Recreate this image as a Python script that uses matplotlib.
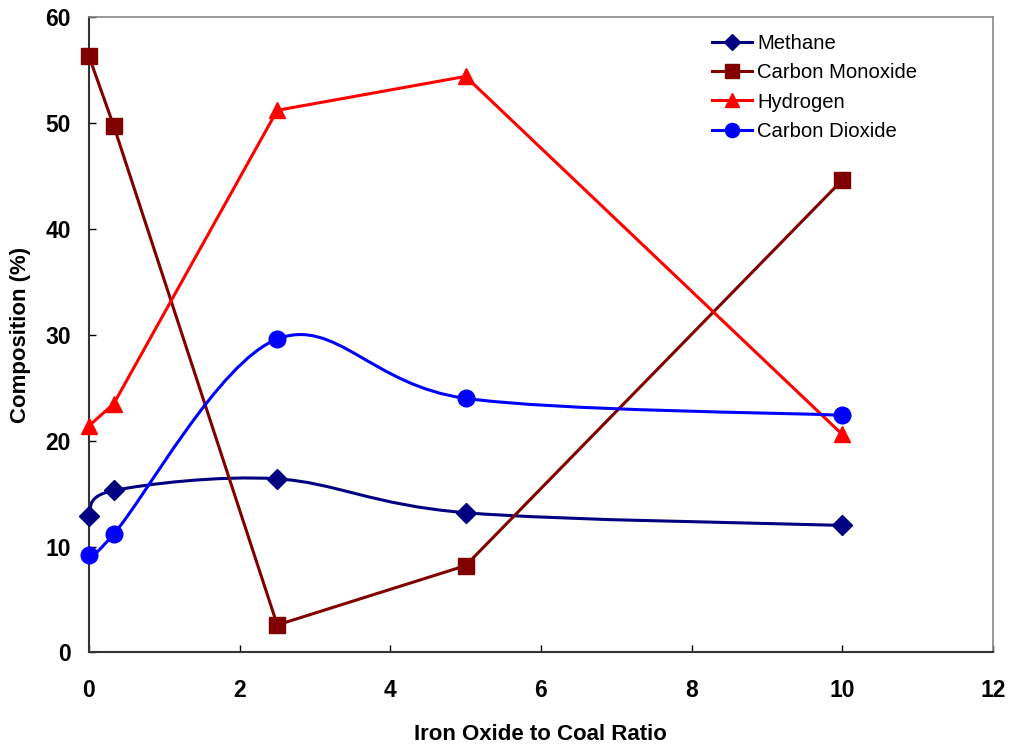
import matplotlib
matplotlib.use('Agg')
from matplotlib import pyplot as plt
from matplotlib.path import Path
from matplotlib.patches import PathPatch
from matplotlib.lines import Line2D

ratio = [0, 0.33, 2.5, 5, 10]
methane = [12.9, 15.3, 16.4, 13.2, 12.0]
carbon_monoxide = [56.3, 49.7, 2.6, 8.2, 44.6]
hydrogen = [21.4, 23.5, 51.2, 54.4, 20.6]
carbon_dioxide = [9.2, 11.2, 29.6, 24.0, 22.4]

plt.rcParams['font.family'] = ['Liberation Sans', 'DejaVu Sans']


def smooth_path(x, y):
    # Excel-style smoothed line: cubic bezier through the points
    pts = list(zip(x, y))
    n = len(pts)
    verts = [pts[0]]
    codes = [Path.MOVETO]
    for i in range(n - 1):
        p0 = pts[i - 1] if i > 0 else pts[i]
        p1 = pts[i]
        p2 = pts[i + 1]
        p3 = pts[i + 2] if i + 2 < n else pts[i + 1]
        c1 = (p1[0] + (p2[0] - p0[0]) / 6, p1[1] + (p2[1] - p0[1]) / 6)
        c2 = (p2[0] - (p3[0] - p1[0]) / 6, p2[1] - (p3[1] - p1[1]) / 6)
        verts += [c1, c2, p2]
        codes += [Path.CURVE4] * 3
    return Path(verts, codes)


fig = plt.figure(figsize=(10.11, 7.44), dpi=100)
ax = fig.add_axes([0.088, 0.123, 0.894, 0.854])

series = [
    ('Methane', methane, '#000080', 'D', 10, True),
    ('Carbon Monoxide', carbon_monoxide, '#800000', 's', 11.5, False),
    ('Hydrogen', hydrogen, '#FF0000', '^', 11.5, False),
    ('Carbon Dioxide', carbon_dioxide, '#0000FF', 'o', 12, True),
]

handles = []
for name, vals, col, mk, ms, smooth in series:
    if smooth:
        ax.add_patch(PathPatch(smooth_path(ratio, vals), fill=False, edgecolor=col, lw=2.2, zorder=2))
    else:
        ax.plot(ratio, vals, color=col, lw=2.2, zorder=2)
    ax.plot(ratio, vals, linestyle='none', marker=mk, color=col, markersize=ms, zorder=3, clip_on=False)
    handles.append(Line2D([], [], color=col, lw=2.2, marker=mk, markersize=ms * 0.85, label=name))

ax.set_xlim(0, 12)
ax.set_ylim(0, 60)
ax.set_xticks(range(0, 13, 2))
ax.set_yticks(range(0, 61, 10))
ax.tick_params(axis='x', direction='in', length=5, width=1, pad=19, labelsize=16.5)
ax.tick_params(axis='y', direction='in', length=5, width=1, pad=13, labelsize=16.5)
for lab in ax.get_xticklabels() + ax.get_yticklabels():
    lab.set_fontweight('bold')

for s in ['left', 'bottom']:
    ax.spines[s].set_color('#333333')
    ax.spines[s].set_linewidth(1.5)
for s in ['top', 'right']:
    ax.spines[s].set_color('#888888')
    ax.spines[s].set_linewidth(1.2)

ax.set_xlabel('Iron Oxide to Coal Ratio', fontsize=16, fontweight='bold', labelpad=16)
ax.set_ylabel('Composition (%)', fontsize=16, fontweight='bold', labelpad=10)

ax.legend(handles=handles, loc='upper left', bbox_to_anchor=(0.689, 0.973), frameon=False,
          fontsize=14.6, handlelength=2.0, handletextpad=0.25, labelspacing=0.5,
          borderpad=0, borderaxespad=0)

plt.savefig('out.png', dpi=100)
